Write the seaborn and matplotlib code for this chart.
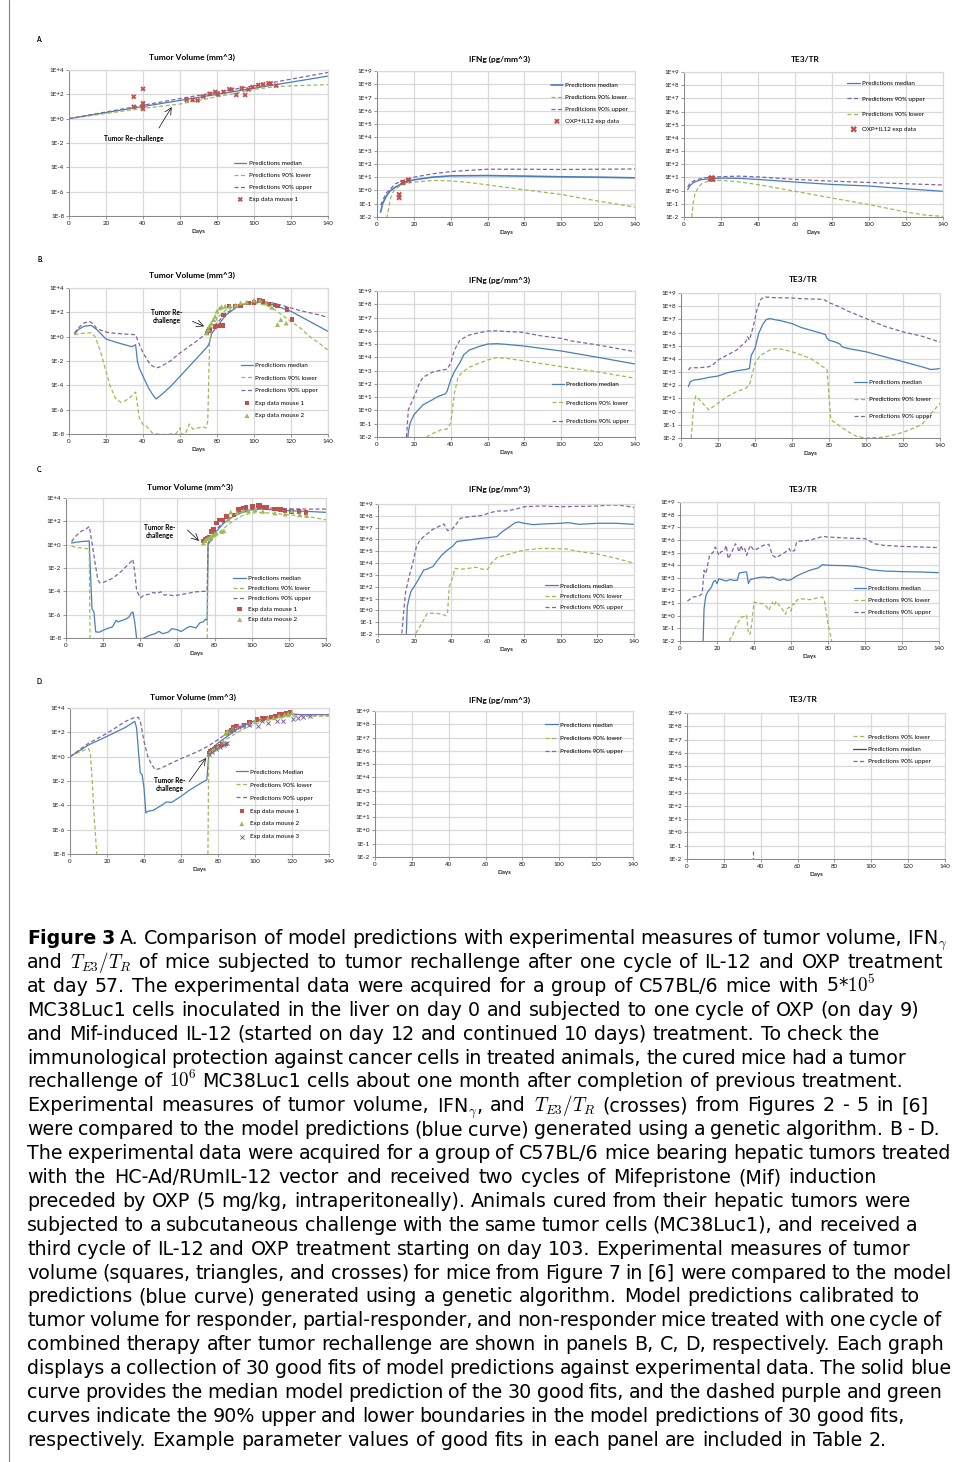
import numpy as np
import pandas as pd
import seaborn as sns
import matplotlib.pyplot as plt
import matplotlib.ticker as mticker
from matplotlib.lines import Line2D

sns.set_theme(style="white")
plt.rcParams['font.family'] = ['Lato', 'DejaVu Sans']
plt.rcParams['mathtext.fontset'] = 'cm'
plt.rcParams['text.color'] = 'black'

BLUE = '#4A7EBB'
NAVY = '#2C4D75'
GREEN = '#9BBB59'
PURPLE = '#8064A2'
RED = '#C0504D'
DASH = (0, (3.2, 2.0))

# ---- data: (day, log10 value) ----
# A: one cycle IL-12 + OXP
a_tv_median = [(0, 0.0), (40, 1.0), (80, 2.0), (140, 3.5)]
a_tv_lower = [(0, 0.0), (40, 0.85), (60, 1.2), (80, 1.8), (100, 2.4), (110, 2.6), (120, 2.7), (140, 2.8)]
a_tv_upper = [(0, 0.0), (60, 1.65), (100, 2.7), (140, 3.8)]
a_tv_mouse1 = [(35, 1.8), (35, 0.98), (40, 2.45), (40, 1.27), (40, 1.05), (40, 0.8), (63.6, 1.55), (66.8, 1.55),
               (69.5, 1.5), (72.6, 1.82), (76, 2.05), (79, 2.2), (80.4, 2.0), (83.5, 2.2), (86.7, 2.42), (88, 2.38),
               (90.4, 1.95), (93.4, 2.5), (95.2, 1.95), (97, 2.4), (99.3, 2.6), (102.4, 2.77), (105, 2.82),
               (107.8, 2.9), (109, 2.9), (112, 2.72)]

a_ifn_median = [(2, -1.63), (3, -1.0), (5, -0.45), (7, -0.05), (10, 0.25), (15, 0.62), (20, 0.8), (30, 1.0),
                (40, 1.1), (60, 1.12), (80, 1.08), (100, 1.03), (120, 1.0), (140, 0.95)]
a_ifn_lower = [(5, -2.6), (5.5, -2.0), (7, -0.8), (8, -0.3), (10, 0.15), (15, 0.5), (20, 0.62), (30, 0.75),
               (40, 0.72), (50, 0.6), (60, 0.42), (80, 0.05), (100, -0.3), (120, -0.8), (140, -1.25)]
a_ifn_upper = [(2, -1.1), (5, -0.2), (10, 0.5), (15, 0.8), (20, 1.0), (30, 1.25), (40, 1.42), (50, 1.52),
               (60, 1.6), (80, 1.6), (100, 1.58), (120, 1.6), (140, 1.62)]
a_ifn_data = [(12, -0.3), (12, -0.55), (14, 0.58), (14, 0.62), (17, 0.76), (17, 0.8)]

a_te_median = [(2, 0.07), (3, 0.35), (5, 0.6), (8, 0.78), (10, 0.85), (15, 0.9), (20, 0.95), (30, 0.93),
               (40, 0.85), (60, 0.65), (80, 0.47), (100, 0.35), (120, 0.14), (140, -0.05)]
a_te_upper = [(2, 0.28), (3, 0.5), (5, 0.72), (10, 0.96), (20, 1.06), (30, 1.1), (40, 1.04), (60, 0.85),
              (80, 0.72), (100, 0.62), (120, 0.52), (140, 0.43)]
a_te_lower = [(3.8, -2.5), (5, -0.9), (6, -0.18), (8, 0.3), (10, 0.58), (15, 0.78), (20, 0.78), (30, 0.66),
              (40, 0.46), (60, -0.05), (80, -0.56), (100, -1.06), (120, -1.62), (130, -1.85), (140, -1.95)]
a_te_data = [(14.5, 0.9), (15, 0.95), (15.5, 0.88)]

# B: responder
b_tv_median = [(3, 0.22), (5, 0.58), (8, 0.85), (12, 0.93), (15, 0.58), (20, -0.19), (25, -0.44), (30, -0.66),
               (34, -0.82), (36, -0.66), (37, -2.03), (38, -2.58), (40, -3.26), (43, -4.22), (45, -4.71),
               (47, -5.12), (50, -4.77), (55, -4.08), (60, -3.26), (65, -2.44), (70, -1.62), (75, -0.79),
               (76, -0.44), (77, 0.22), (80, 0.85), (85, 1.8), (90, 2.36), (95, 2.68), (100, 2.85), (105, 2.82),
               (110, 2.63), (115, 2.36), (120, 2.08), (125, 1.67), (130, 1.26), (135, 0.85), (140, 0.44)]
b_tv_upper = [(3, 0.3), (5, 0.71), (8, 1.12), (11, 1.26), (13, 1.07), (15, 0.66), (20, 0.38), (25, 0.27),
              (30, 0.22), (36, 0.16), (37, -0.25), (40, -1.34), (44, -2.3), (47, -2.58), (50, -2.44), (55, -1.97),
              (60, -1.34), (65, -0.79), (70, -0.25), (75, 0.38), (80, 1.12), (85, 1.95), (90, 2.44), (95, 2.71),
              (100, 2.85), (105, 2.88), (110, 2.77), (115, 2.58), (120, 2.36), (125, 2.14), (130, 1.97),
              (135, 1.8), (140, 1.59)]
b_tv_lower = [(3, 0.16), (6, 0.25), (12, 0.33), (14, 0.03), (17, -1.21), (20, -2.85), (22, -3.95), (25, -5.04),
              (28, -5.4), (30, -5.32), (33, -4.99), (36, -4.55), (37, -5.59), (38, -6.68), (40, -7.23),
              (42, -7.37), (45, -7.92), (50, -8.05), (55, -8.0), (58, -7.95), (60, -7.5), (61, -8.05), (63, -7.95),
              (65, -7.18), (67, -7.6), (70, -7.5), (72, -7.4), (74, -7.5), (75, -6.96), (76, -0.52), (77, 0.44),
              (80, 1.53), (85, 2.22), (90, 2.58), (95, 2.71), (100, 2.74), (105, 2.63), (110, 2.36), (115, 1.8),
              (120, 1.26), (125, 0.71), (130, 0.03), (135, -0.52), (140, -1.1)]
b_tv_mouse1 = [(74.5, 0.3), (75.5, 0.45), (76, 0.58), (79, 0.85), (80.7, 0.9), (82, 0.93), (83, 0.93),
               (83.5, 1.8), (86.5, 2.5), (89.8, 2.5), (92.8, 2.5), (97, 2.77), (100, 2.82), (103, 2.96), (105, 2.9),
               (108, 2.68), (111.5, 2.58), (112.7, 2.5), (117.8, 2.22), (120.7, 1.4)]
b_tv_mouse2 = [(74.4, 0.3), (75.3, 0.58), (76, 0.9), (77, 1.1), (78, 1.4), (79, 1.67), (80, 2.1), (81.6, 2.36),
               (82.5, 2.45), (84.4, 2.5), (87, 2.5), (90, 2.58), (92.8, 2.77), (96, 2.85), (100, 3.0),
               (103.3, 3.0), (106.6, 2.77), (109.6, 2.41), (112.7, 0.99), (114.5, 1.4), (117.4, 1.12)]

b_ifn_median = [(16.5, -2.5), (17, -1.6), (18, -0.95), (20, -0.33), (25, 0.43), (30, 0.8), (33, 1.05),
                (37, 1.25), (38, 1.43), (40, 2.3), (42, 2.93), (45, 3.6), (47, 4.18), (50, 4.55), (55, 4.8),
                (60, 5.0), (65, 5.03), (70, 4.98), (80, 4.85), (100, 4.48), (120, 4.0), (140, 3.5)]
b_ifn_upper = [(15.8, -2.5), (16, -2.0), (17, 0.05), (19, 0.68), (21, 1.3), (23, 2.05), (25, 2.5), (30, 2.88),
               (35, 3.05), (38, 3.1), (40, 3.55), (42, 4.55), (45, 5.3), (50, 5.68), (55, 5.85), (60, 5.98),
               (65, 6.0), (70, 5.95), (78, 5.9), (80, 5.85), (90, 5.6), (100, 5.43), (105, 5.25), (120, 4.93),
               (140, 4.43)]
b_ifn_lower = [(26, -2.5), (27, -2.0), (30, -1.75), (35, -1.45), (38, -1.4), (40, -0.95), (42, 1.3), (44, 2.55),
               (47, 2.93), (50, 3.25), (55, 3.55), (60, 3.8), (65, 3.98), (70, 3.93), (80, 3.73), (100, 3.3),
               (120, 2.9), (140, 2.43)]

b_te_median = [(4, 1.9), (5, 2.27), (7, 2.4), (10, 2.45), (13, 2.53), (15, 2.6), (20, 2.7), (25, 2.95),
               (30, 3.1), (35, 3.2), (37, 3.28), (38, 4.29), (40, 4.8), (42, 5.93), (44, 6.56), (46, 6.98),
               (48, 7.06), (50, 7.0), (55, 6.86), (60, 6.68), (65, 6.38), (70, 6.18), (75, 5.98), (78, 5.85),
               (79, 5.55), (80, 5.42), (83, 5.3), (86, 5.12), (87, 4.92), (90, 4.8), (100, 4.54), (120, 3.79),
               (130, 3.41), (135, 3.2), (138, 3.23), (140, 3.28)]
b_te_upper = [(4, 3.16), (5, 3.33), (10, 3.33), (15, 3.4), (17, 3.53), (20, 3.91), (25, 4.29), (30, 4.67),
              (35, 5.3), (36, 5.68), (37, 5.42), (39, 6.43), (41, 7.69), (43, 8.5), (45, 8.7), (50, 8.65),
              (60, 8.62), (65, 8.57), (70, 8.55), (77, 8.52), (80, 8.27), (85, 7.99), (90, 7.64), (100, 7.06),
              (110, 6.48), (120, 6.05), (130, 5.73), (140, 5.27)]
b_te_lower = [(5.2, -2.5), (5.5, -2.0), (7, 0.64), (8, 1.2), (10, 0.9), (15, 0.13), (20, 0.64), (25, 1.14),
              (30, 1.52), (35, 1.77), (37, 2.02), (40, 3.66), (43, 4.29), (45, 4.42), (48, 4.67), (52, 4.8),
              (55, 4.72), (60, 4.54), (70, 4.04), (78, 3.28), (79, 3.16), (80, 1.14), (81, -0.62), (85, -1.0),
              (90, -1.5), (95, -1.88), (100, -2.0), (110, -1.93), (120, -1.58), (130, -1.0), (140, 0.64)]

# C: partial responder
c_tv_median = [(3, 0.14), (5, 0.2), (8, 0.26), (12.5, 0.32), (13, -1.75), (14, -5.48), (15, -5.76), (16, -7.48),
               (18, -7.5), (20, -7.34), (22, -7.2), (25, -7.05), (27, -6.48), (28, -6.62), (30, -6.5), (32, -6.4),
               (34, -6.19), (35, -5.9), (36, -5.76), (37, -6.62), (38, -8.0), (39, -8.2), (40, -8.1), (42, -8.0),
               (45, -7.77), (48, -7.63), (50, -7.43), (52, -7.63), (55, -7.5), (57, -7.2), (60, -7.3),
               (62, -7.45), (65, -7.14), (67, -7.0), (70, -7.14), (72, -6.71), (74, -6.6), (75, -6.39),
               (76, -6.48), (76.5, 0.0), (78, 0.4), (80, 0.98), (85, 1.85), (90, 2.42), (95, 2.77), (100, 3.0),
               (105, 3.05), (110, 3.0), (120, 2.91), (130, 2.85), (140, 2.77)]
c_tv_upper = [(3, 0.26), (5, 0.69), (8, 1.13), (11, 1.36), (12.5, 1.56), (13, 1.13), (15, -0.88), (17, -2.89),
              (18, -3.26), (20, -3.24), (25, -2.89), (30, -2.26), (35, -1.45), (36, -1.25), (37, -2.32),
              (38, -3.9), (40, -4.56), (42, -4.33), (45, -4.24), (47, -4.1), (49, -4.19), (51, -4.04),
              (53, -4.33), (55, -4.28), (58, -4.38), (60, -4.33), (65, -4.19), (70, -4.04), (75, -3.99),
              (76, -3.99), (76.5, 0.11), (78, 0.55), (80, 1.13), (85, 1.99), (90, 2.56), (95, 2.91), (100, 3.08),
              (110, 3.14), (120, 3.08), (130, 3.05), (140, 3.05)]
c_tv_lower = [(3, -0.11), (5, -0.23), (10, -0.32), (12.5, -0.37), (13, -9.0), (76, -9.0), (76.5, 0.0),
              (78, 0.26), (80, 0.69), (85, 1.41), (90, 2.04), (95, 2.5), (100, 2.71), (105, 2.77), (110, 2.71),
              (120, 2.56), (130, 2.42), (140, 2.13)]
c_tv_mouse1 = [(74, 0.3), (75, 0.45), (76, 0.55), (77, 0.65), (78.4, 1.13), (79.5, 1.3), (81.1, 1.85),
               (82.5, 2.13), (84.3, 2.13), (86.5, 2.42), (90.5, 2.56), (92.8, 3.0), (95.5, 3.14), (96.9, 3.2),
               (100.5, 3.28), (103.6, 3.37), (104.5, 3.37), (106.3, 3.22), (108, 3.2), (112.2, 3.05),
               (113.8, 3.05), (115.6, 3.0), (117.9, 2.91), (121.5, 2.85), (125.6, 2.85), (129.2, 2.77)]
c_tv_mouse2 = [(74, 0.15), (75, 0.35), (76, 0.5), (77, 0.6), (78, 0.7), (79, 0.8), (80, 0.9), (81, 1.0),
               (83.8, 1.13), (85, 1.19), (87.4, 2.13), (88.7, 2.79), (92, 2.75), (95.5, 2.91), (98.2, 2.91),
               (101.8, 3.0), (106, 2.85), (112.5, 2.71), (118, 2.62), (121.6, 2.91), (125.8, 2.56), (129.6, 2.5)]

c_ifn_median = [(15.2, -2.5), (15.5, -2.0), (16, 0.32), (17, 1.03), (18, 1.6), (20, 2.07), (22, 2.58),
                (25, 3.42), (27, 3.5), (29, 3.65), (30, 3.7), (32, 4.13), (35, 4.69), (38, 5.11), (41, 5.45),
                (43, 5.82), (45, 5.87), (50, 5.96), (55, 6.07), (60, 6.15), (65, 6.24), (68, 6.66), (72, 7.08),
                (75, 7.42), (77, 7.48), (80, 7.37), (85, 7.25), (90, 7.31), (100, 7.37), (104, 7.42),
                (110, 7.28), (120, 7.37), (130, 7.37), (140, 7.28)]
c_ifn_upper = [(12.8, -2.5), (13, -2.0), (14, -0.24), (15, 1.45), (17, 2.86), (19, 3.99), (21, 5.39),
               (23, 5.96), (25, 6.24), (30, 6.86), (33, 7.08), (35, 7.23), (36, 7.31), (38, 6.75), (40, 6.8),
               (42, 7.14), (45, 7.79), (50, 7.93), (55, 7.99), (58, 8.07), (60, 8.21), (65, 8.41), (70, 8.41),
               (75, 8.55), (80, 8.77), (90, 8.83), (100, 8.77), (110, 8.8), (120, 8.83), (128, 8.92),
               (135, 8.85), (140, 8.69)]
c_ifn_lower = [(20, -2.5), (20.5, -2.0), (23, -1.35), (25, -0.8), (27, -0.24), (30, -0.24), (35, -0.3),
               (37, -0.46), (38, -0.24), (39, 2.01), (41, 2.86), (42, 3.56), (45, 3.48), (50, 3.56), (53, 3.65),
               (55, 3.6), (57, 3.48), (60, 3.48), (62, 3.99), (65, 4.46), (70, 4.69), (80, 5.11), (90, 5.25),
               (100, 5.2), (103, 5.2), (110, 4.97), (120, 4.77), (130, 4.41), (140, 3.99)]

c_te_median = [(12.3, -2.5), (12.5, -2.0), (13, 0.56), (14, 1.61), (15, 1.88), (17, 2.27), (18, 2.67),
               (19, 2.8), (20, 2.54), (21, 2.93), (22, 2.88), (25, 2.75), (27, 2.86), (29, 2.8), (31, 2.8),
               (32, 3.38), (35, 3.46), (36, 3.46), (37, 2.54), (38, 2.86), (40, 2.93), (42, 3.01), (45, 3.06),
               (48, 3.01), (50, 3.06), (52, 2.93), (54, 2.8), (56, 2.9), (58, 2.8), (60, 2.85), (62, 3.06),
               (65, 3.28), (70, 3.59), (75, 3.8), (77, 4.04), (80, 3.99), (90, 3.96), (95, 3.9), (100, 3.78),
               (103, 3.64), (110, 3.54), (120, 3.49), (130, 3.46), (140, 3.41)]
c_te_upper = [(4, 1.16), (7, 1.48), (10, 1.53), (12, 1.74), (13, 3.59), (14, 3.33), (16, 4.78), (18, 5.04),
              (19, 5.44), (20, 5.17), (21, 4.78), (22, 5.04), (24, 5.17), (25, 5.57), (26, 4.51), (28, 5.04),
              (30, 5.7), (31, 5.44), (32, 5.04), (33, 5.57), (34, 5.17), (35, 5.31), (36, 4.78), (37, 5.17),
              (38, 5.57), (40, 5.17), (42, 5.31), (45, 5.57), (48, 5.65), (50, 4.78), (52, 4.59), (55, 4.86),
              (57, 5.04), (59, 5.31), (60, 5.04), (62, 5.17), (63, 5.83), (65, 5.91), (70, 5.97), (75, 6.18),
              (77, 6.28), (80, 6.23), (90, 6.15), (100, 6.1), (102, 5.97), (105, 5.7), (110, 5.57),
              (120, 5.49), (140, 5.39)]
c_te_lower = [(26.7, -2.5), (27, -1.82), (28, -1.69), (30, -0.9), (33, -0.11), (35, -0.05), (36, 0.03),
              (37, -1.47), (38, -1.42), (39, -0.37), (40, 1.08), (42, 1.0), (45, 0.95), (47, 0.69), (48, 0.42),
              (50, 1.08), (51, 0.82), (52, 1.16), (54, 0.74), (56, 0.37), (57, 0.11), (58, 0.56), (59, 0.69),
              (60, 0.37), (61, 0.95), (62, 0.9), (63, 1.22), (65, 1.35), (70, 1.27), (75, 1.43), (77, 1.48),
              (78, 1.22), (80, -0.64), (82, -2.0), (82.3, -2.5)]

# D: non-responder
d_tv_median = [(0, 0.0), (10, 0.96), (20, 1.67), (30, 2.41), (35, 2.9), (36, 2.36), (37, 0.44), (38, -1.34),
               (39, -1.48), (40, -2.58), (41, -4.63), (42, -4.49), (45, -4.41), (50, -3.95), (52, -3.73),
               (55, -3.75), (60, -3.26), (65, -2.71), (70, -2.25), (74, -1.89), (75, 0.16), (76, 0.58),
               (80, 1.12), (85, 1.67), (90, 2.22), (95, 2.63), (100, 2.96), (105, 3.18), (110, 3.32),
               (115, 3.45), (120, 3.51), (125, 3.45), (140, 3.45)]
d_tv_upper = [(0, 0.0), (10, 1.1), (20, 1.92), (30, 2.9), (35, 3.23), (37, 3.23), (38, 2.9), (40, 1.26),
              (42, 0.03), (44, -0.6), (46, -1.07), (48, -1.0), (50, -0.88), (55, -0.52), (60, -0.16), (65, 0.16),
              (70, 0.49), (75, 0.9), (80, 1.4), (85, 1.95), (90, 2.36), (95, 2.68), (100, 2.96), (110, 3.23),
              (120, 3.45), (140, 3.45)]
d_tv_lower = [(0, 0.0), (5, 0.38), (10, 0.66), (11, 0.3), (12, -2.03), (13, -4.77), (14, -6.96), (14.5, -8.05),
              (15, -9.0), (74.5, -9.0), (75, 0.16), (80, 0.99), (85, 1.48), (90, 1.95), (95, 2.36), (100, 2.68),
              (105, 2.96), (110, 3.12), (120, 3.32), (140, 3.32)]
d_tv_mouse1 = [(75, 0.25), (76, 0.45), (77, 0.55), (78, 0.65), (79, 0.75), (80, 0.8), (81, 0.9), (82, 1.0),
               (84, 1.05), (85, 2.0), (87, 2.2), (88, 2.4), (90, 2.5), (94, 2.6), (97, 2.85), (101, 3.05),
               (104, 3.15), (106, 3.2), (109, 3.25), (111, 3.35), (113, 3.45), (115, 3.5), (117, 3.55), (119, 3.65)]
d_tv_mouse2 = [(75, 0.2), (76, 0.4), (77, 0.5), (78, 0.6), (80, 0.8), (83, 1.2), (84, 1.9), (85, 2.05),
               (86, 2.1), (88, 2.3), (91, 2.45), (94, 2.55), (97, 2.7), (100, 2.9), (103, 3.05), (107, 3.15),
               (110, 3.2), (113, 3.35), (116, 3.45), (118, 3.55), (120, 3.6)]
d_tv_mouse3 = [(75, 0.2), (77, 0.4), (79, 0.6), (81, 0.8), (83, 0.95), (85, 1.1), (86.5, 2.08), (88.6, 2.2),
               (91.5, 2.4), (93.7, 2.6), (97, 2.6), (101.4, 2.49), (104, 2.9), (107, 2.77), (111.7, 2.9),
               (115.3, 2.96), (120.7, 3.12), (123.4, 3.18), (126, 3.26), (129.7, 3.32)]
d_te_upper = [(36, -1.4), (36, -2.5)]

caption_lines = [
    "Figure 3 A. Comparison of model predictions with experimental measures of tumor volume, IFN$_\\gamma$",
    "and $T_{E3}/T_R$ of mice subjected to tumor rechallenge after one cycle of IL-12 and OXP treatment",
    "at day 57. The experimental data were acquired for a group of C57BL/6 mice with 5*$10^5$",
    "MC38Luc1 cells inoculated in the liver on day 0 and subjected to one cycle of OXP (on day 9)",
    "and Mif-induced IL-12 (started on day 12 and continued 10 days) treatment. To check the",
    "immunological protection against cancer cells in treated animals, the cured mice had a tumor",
    "rechallenge of $10^6$ MC38Luc1 cells about one month after completion of previous treatment.",
    "Experimental measures of tumor volume, IFN$_\\gamma$, and $T_{E3}/T_R$ (crosses) from Figures 2 - 5 in [6]",
    "were compared to the model predictions (blue curve) generated using a genetic algorithm. B - D.",
    "The experimental data were acquired for a group of C57BL/6 mice bearing hepatic tumors treated",
    "with the HC-Ad/RUmIL-12 vector and received two cycles of Mifepristone (Mif) induction",
    "preceded by OXP (5 mg/kg, intraperitoneally). Animals cured from their hepatic tumors were",
    "subjected to a subcutaneous challenge with the same tumor cells (MC38Luc1), and received a",
    "third cycle of IL-12 and OXP treatment starting on day 103. Experimental measures of tumor",
    "volume (squares, triangles, and crosses) for mice from Figure 7 in [6] were compared to the model",
    "predictions (blue curve) generated using a genetic algorithm. Model predictions calibrated to",
    "tumor volume for responder, partial-responder, and non-responder mice treated with one cycle of",
    "combined therapy after tumor rechallenge are shown in panels B, C, D, respectively. Each graph",
    "displays a collection of 30 good fits of model predictions against experimental data. The solid blue",
    "curve provides the median model prediction of the 30 good fits, and the dashed purple and green",
    "curves indicate the 90% upper and lower boundaries in the model predictions of 30 good fits,",
    "respectively. Example parameter values of good fits in each panel are included in Table 2.",
]
# right end (px) of each caption line in the reference
caption_ends = [948, 943, 875, 919, 880, 906, 903, 928, 940, 951, 877, 910, 917, 910, 951, 920, 941, 944,
                951, 942, 905, 887]

W, H = 955, 1462
fig = plt.figure(figsize=(W / 100, H / 100), dpi=100)
fig.patch.set_facecolor('white')
FS = 4.5


def px_axes(l, t, r, b):
    return fig.add_axes([l / W, 1 - b / H, (r - l) / W, (b - t) / H])


def frame(pts):
    df = pd.DataFrame(pts, columns=['day', 'log10'])
    df['value'] = 10.0 ** df['log10']
    return df


def curve(ax, pts, color, ls='-', lw=0.9):
    sns.lineplot(data=frame(pts), x='day', y='value', ax=ax, color=color, linewidth=lw,
                 linestyle=ls, sort=False, estimator=None, errorbar=None)
    return ax.get_lines()[-1]


def points(ax, pts, color, marker, size, lw=0.0):
    sns.scatterplot(data=frame(pts), x='day', y='value', ax=ax, color=color, marker=marker,
                    s=size, linewidth=lw, edgecolor=color if lw else 'none', zorder=5)
    return ax.collections[-1]


def style(ax, ylo, yhi, step, title, tx, ty):
    ax.set_yscale('log')
    ax.set_xlim(0, 140)
    ax.set_ylim(10.0 ** ylo, 10.0 ** yhi)
    exps = list(range(yhi, ylo - 1, -step))
    ax.set_yticks([10.0 ** e for e in exps], [f'1E{e:+d}' for e in exps])
    ax.yaxis.set_minor_locator(mticker.NullLocator())
    ax.set_xticks(range(0, 141, 20))
    ax.grid(True, color='#D9D9D9', linewidth=0.9)
    ax.set_axisbelow(True)
    for s in ['top', 'right']:
        ax.spines[s].set_color('#D9D9D9')
        ax.spines[s].set_linewidth(0.9)
    for s in ['left', 'bottom']:
        ax.spines[s].set_color('#868686')
        ax.spines[s].set_linewidth(0.7)
    ax.tick_params(axis='both', labelsize=FS, length=2, width=0.6, color='#868686', pad=1.5,
                   left=True, bottom=True, labelcolor='#1a1a1a')
    ax.set_xlabel('Days', fontsize=FS, fontweight='bold', labelpad=2)
    ax.set_ylabel('')
    fig.text(tx / W, 1 - ty / H, title, ha='center', va='center', fontsize=6.0, fontweight='bold')


def legend(ax, handles, labels, x0, y_top, y_bot, hlen_px=12.5):
    n = len(handles)
    ax_h = ax.get_position().height * H
    fs_px = FS * 100 / 72
    step_px = (y_top - y_bot) * ax_h / (n - 1)
    ax.legend(handles, labels, loc='center left', bbox_to_anchor=(x0, (y_top + y_bot) / 2),
              frameon=False, fontsize=FS, handlelength=hlen_px / fs_px, handletextpad=0.35,
              labelspacing=max(step_px / fs_px - 1.05, 0.1), borderpad=0, borderaxespad=0,
              scatterpoints=1)


def tumor_note(ax, text, txt, tail, head):
    ax.text(txt[0], 10.0 ** txt[1], text, fontsize=FS + 0.3, fontweight='bold', ha='center',
            va='center', linespacing=1.1)
    ax.annotate('', xy=(head[0], 10.0 ** head[1]), xytext=(tail[0], 10.0 ** tail[1]),
                arrowprops=dict(arrowstyle='->', lw=0.5, color='black', shrinkA=0, shrinkB=0))


# ---------------- row A ----------------
ax = px_axes(69, 70, 328, 216)
h = [curve(ax, a_tv_median, BLUE), curve(ax, a_tv_lower, GREEN, DASH), curve(ax, a_tv_upper, PURPLE, DASH),
     points(ax, a_tv_mouse1, RED, 'X', 14)]
style(ax, -8, 4, 2, 'Tumor Volume (mm^3)', 192, 57)
legend(ax, h, ['Predictions median', 'Predictions 90% lower', 'Predictions 90% upper', 'Exp data mouse 1'],
       0.637, 0.375, 0.102)
tumor_note(ax, 'Tumor Re-challenge', (35, -1.64), (48.6, -0.77), (55.5, 0.95))

ax = px_axes(377, 71, 635, 217)
h = [curve(ax, a_ifn_median, BLUE, lw=1.2), curve(ax, a_ifn_lower, GREEN, DASH),
     curve(ax, a_ifn_upper, PURPLE, DASH), points(ax, a_ifn_data, RED, 'X', 16)]
style(ax, -2, 9, 1, 'IFNg (pg/mm^3)', 499, 59)
legend(ax, h, ['Predictions median', 'Predictions 90% lower', 'Preditcions 90% upper', 'OXP+IL12 exp data'],
       0.673, 0.913, 0.644)

ax = px_axes(684, 72, 943, 217)
h = [curve(ax, a_te_median, BLUE), curve(ax, a_te_upper, PURPLE, DASH), curve(ax, a_te_lower, GREEN, DASH),
     points(ax, a_te_data, RED, 'X', 22)]
style(ax, -2, 9, 1, 'TE3/TR', 805, 60)
legend(ax, h, ['Predictions median', 'Predictions 90% upper', 'Predictions 90% lower', 'OXP+IL12 exp data'],
       0.631, 0.931, 0.593)

# ---------------- row B ----------------
ax = px_axes(69, 288, 328, 434)
h = [curve(ax, b_tv_median, BLUE), curve(ax, b_tv_lower, GREEN, DASH), curve(ax, b_tv_upper, PURPLE, DASH),
     points(ax, b_tv_mouse1, RED, 's', 10), points(ax, b_tv_mouse2, GREEN, '^', 12)]
style(ax, -8, 4, 2, 'Tumor Volume (mm^3)', 192, 275)
legend(ax, h, ['Predictions median', 'Predictions 90% lower', 'Predictions 90% upper', 'Exp data mouse 1',
               'Exp data mouse 2'], 0.663, 0.486, 0.11)
tumor_note(ax, 'Tumor Re-\nchallenge', (52.7, 1.67), (66.7, 1.26), (73, 0.85))

ax = px_axes(377, 291, 635, 437)
h = [curve(ax, b_ifn_median, BLUE), curve(ax, b_ifn_lower, GREEN, DASH), curve(ax, b_ifn_upper, PURPLE, DASH)]
style(ax, -2, 9, 1, 'IFNg (pg/mm^3)', 499, 280)
legend(ax, h, ['Predictions median', 'Predictions 90% lower', 'Predictions 90% upper'], 0.677, 0.368, 0.1)

ax = px_axes(681, 293, 940, 438)
h = [curve(ax, b_te_median, BLUE), curve(ax, b_te_lower, GREEN, DASH), curve(ax, b_te_upper, PURPLE, DASH)]
style(ax, -2, 9, 1, 'TE3/TR', 803, 280)
legend(ax, h, ['Predictions median', 'Predictions 90% lower', 'Predictions 90% upper'], 0.668, 0.389, 0.142)

# ---------------- row C ----------------
ax = px_axes(66, 498, 326, 638)
h = [curve(ax, c_tv_median, BLUE), curve(ax, c_tv_lower, GREEN, DASH), curve(ax, c_tv_upper, PURPLE, DASH),
     points(ax, c_tv_mouse1, RED, 's', 10), points(ax, c_tv_mouse2, GREEN, '^', 12)]
style(ax, -8, 4, 2, 'Tumor Volume (mm^3)', 190, 487)
legend(ax, h, ['Predictions median', 'Predictions 90% lower', 'Predictions 90% upper', 'Exp data mouse 1',
               'Exp data mouse 2'], 0.644, 0.445, 0.115)
tumor_note(ax, 'Tumor Re-\nchallenge', (50.6, 1.13), (65.3, 1.27), (71.6, 0.32))

ax = px_axes(378, 504, 634, 634)
h = [curve(ax, c_ifn_median, BLUE), curve(ax, c_ifn_lower, GREEN, DASH), curve(ax, c_ifn_upper, PURPLE, DASH)]
style(ax, -2, 9, 1, 'IFNg (pg/mm^3)', 499, 489)
legend(ax, h, ['Predictions median', 'Predictions 90% lower', 'Predictions 90% upper'], 0.653, 0.379, 0.194)

ax = px_axes(680, 502, 939, 641)
h = [curve(ax, c_te_median, BLUE), curve(ax, c_te_lower, GREEN, DASH), curve(ax, c_te_upper, PURPLE, DASH)]
style(ax, -2, 9, 1, 'TE3/TR', 803, 489)
legend(ax, h, ['Predictions median', 'Predictions 90% lower', 'Predictions 90% upper'], 0.671, 0.388, 0.197)

# ---------------- row D ----------------
ax = px_axes(70, 708, 329, 854)
h = [curve(ax, d_tv_median, BLUE), curve(ax, d_tv_lower, GREEN, DASH), curve(ax, d_tv_upper, PURPLE, DASH),
     points(ax, d_tv_mouse1, RED, 's', 10), points(ax, d_tv_mouse2, GREEN, '^', 12),
     points(ax, d_tv_mouse3, PURPLE, 'x', 9, lw=0.7)]
style(ax, -8, 4, 2, 'Tumor Volume (mm^3)', 193, 697)
legend(ax, h, ['Predictions Median', 'Predictions 90% lower', 'Predictions 90% upper', 'Exp data mouse 1',
               'Exp data mouse 2', 'Exp data mouse 3'], 0.639, 0.582, 0.098)
tumor_note(ax, 'Tumor Re-\nchallenge', (54, -2.3), (64.5, -2.03), (73.5, -0.11))

ax = px_axes(375, 711, 633, 857)
style(ax, -2, 9, 1, 'IFNg (pg/mm^3)', 499, 700)
h = [Line2D([], [], color=BLUE, lw=0.9), Line2D([], [], color=GREEN, lw=0.9, ls=DASH),
     Line2D([], [], color=PURPLE, lw=0.9, ls=DASH)]
legend(ax, h, ['Predictions median', 'Predictions 90% lower', 'Predictions 90% upper'], 0.66, 0.913, 0.715)

ax = px_axes(687, 713, 945, 859)
up = curve(ax, d_te_upper, PURPLE, DASH)
style(ax, -2, 9, 1, 'TE3/TR', 803, 700)
h = [Line2D([], [], color=GREEN, lw=0.9, ls=DASH), Line2D([], [], color=NAVY, lw=0.9), up]
legend(ax, h, ['Predictions 90% lower', 'Predictions median', 'Predictions 90% upper'], 0.645, 0.845, 0.658)

for letter, (lx, ly) in zip('ABCD', [(39, 40), (40, 260), (40, 470), (40, 681)]):
    fig.text(lx / W, 1 - ly / H, letter + '.', fontsize=4.8, fontweight='bold', ha='center', va='center')

# ---------------- caption: words spread so each line ends where the reference line ends ----------------
CAP_FONT = ['DejaVu Sans']
renderer = fig.canvas.get_renderer()
left_px = 27


def width(s, fs, weight='normal'):
    t = fig.text(0, 0, s, fontsize=fs, fontweight=weight, family=CAP_FONT)
    w = t.get_window_extent(renderer).width
    t.remove()
    return w


def line_words(i, line):
    words = line.split()
    return words, ['bold' if (i == 0 and j < 2) else 'normal' for j in range(len(words))]


base = 12.0
sp_base = width('a a', base) - width('aa', base)
ratios = []
for i, line in enumerate(caption_lines):
    words, wts = line_words(i, line)
    nat = sum(width(w, base, wt) for w, wt in zip(words, wts)) + sp_base * 0.8 * (len(words) - 1)
    ratios.append((caption_ends[i] - left_px) / nat)
cap_fs = base * min(ratios)

for i, line in enumerate(caption_lines):
    words, wts = line_words(i, line)
    widths = [width(w, cap_fs, wt) for w, wt in zip(words, wts)]
    gap = (caption_ends[i] - left_px - sum(widths)) / (len(words) - 1)
    x = left_px
    yb = 944 + 23.9 * i
    for w, wt, ww in zip(words, wts, widths):
        fig.text(x / W, 1 - yb / H, w, fontsize=cap_fs, fontweight=wt, family=CAP_FONT,
                 ha='left', va='baseline')
        x += ww + gap

fig.add_artist(Line2D([9 / W, 9 / W], [0, 1], color='#808080', lw=0.8))

fig.savefig('out.png', dpi=100)
